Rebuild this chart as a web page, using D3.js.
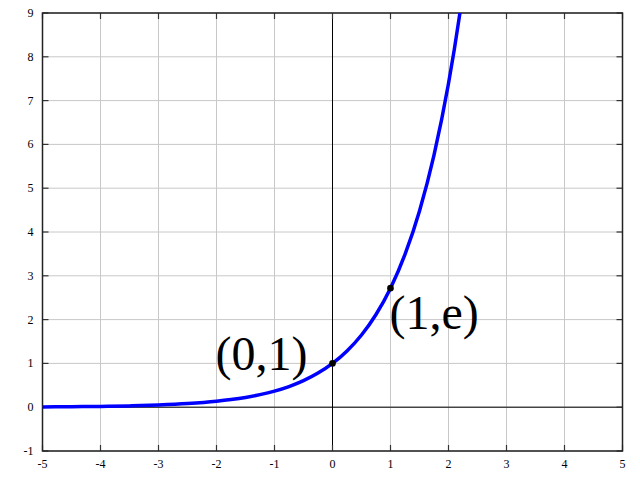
<!DOCTYPE html>
<html><head><meta charset="utf-8">
<script src="https://cdn.jsdelivr.net/npm/d3@7"></script>
<style>body{margin:0;background:#fff}</style>
</head><body><svg id="c" width="640" height="480"></svg>
<script>
const xTicks = [-5,-4,-3,-2,-1,0,1,2,3,4,5];
const yTicks = [-1,0,1,2,3,4,5,6,7,8,9];
const curveX = [-5,-4.5,-4,-3.5,-3,-2.5,-2,-1.75,-1.5,-1.25,-1,-0.75,-0.5,-0.25,0,0.25,0.5,0.75,1,1.25,1.5,1.75,2,2.1,2.2];
const curveY = [0.007,0.011,0.018,0.030,0.050,0.082,0.135,0.174,0.223,0.287,0.368,0.472,0.607,0.779,1,1.284,1.649,2.117,2.718,3.490,4.482,5.755,7.389,8.166,9.025];
const pointX = [0,1];
const pointY = [1,2.718];
const labels = ["(0,1)","(1,e)"];

const svg = d3.select("#c");
const L=42.5,R=622.5,T=13,B=451;
const x = d3.scaleLinear().domain([-5,5]).range([L,R]);
const y = d3.scaleLinear().domain([-1,9]).range([B,T]);
const font = "'Liberation Serif','Times New Roman',serif";

// grid
svg.append("g").selectAll("line").data(xTicks).join("line")
  .attr("x1",d=>x(d)).attr("x2",d=>x(d)).attr("y1",T).attr("y2",B)
  .attr("stroke","#c8c8c8").attr("stroke-width",1);
svg.append("g").selectAll("line").data(yTicks).join("line")
  .attr("y1",d=>y(d)).attr("y2",d=>y(d)).attr("x1",L).attr("x2",R)
  .attr("stroke","#c8c8c8").attr("stroke-width",1);

// axes through origin
svg.append("line").attr("x1",x(0)).attr("x2",x(0)).attr("y1",T).attr("y2",B).attr("stroke","#000").attr("stroke-width",1);
svg.append("line").attr("y1",y(0)).attr("y2",y(0)).attr("x1",L).attr("x2",R).attr("stroke","#000").attr("stroke-width",1);

// tick marks
const tk = svg.append("g").attr("stroke","#333").attr("stroke-width",1.2);
xTicks.forEach(d=>{
  tk.append("line").attr("x1",x(d)).attr("x2",x(d)).attr("y1",B).attr("y2",B-6);
  tk.append("line").attr("x1",x(d)).attr("x2",x(d)).attr("y1",T).attr("y2",T+6);
});
yTicks.forEach(d=>{
  tk.append("line").attr("y1",y(d)).attr("y2",y(d)).attr("x1",L).attr("x2",L+6);
  tk.append("line").attr("y1",y(d)).attr("y2",y(d)).attr("x1",R).attr("x2",R-6);
});

// frame
svg.append("rect").attr("x",L).attr("y",T).attr("width",R-L).attr("height",B-T)
  .attr("fill","none").attr("stroke","#222").attr("stroke-width",1.5);

// tick labels
svg.append("g").selectAll("text").data(xTicks).join("text")
  .attr("x",d=>x(d)).attr("y",B+17).attr("text-anchor","middle")
  .attr("font-family",font).attr("font-size",12).text(d=>d);
svg.append("g").selectAll("text").data(yTicks).join("text")
  .attr("x",L-9).attr("y",d=>y(d)+4).attr("text-anchor","end")
  .attr("font-family",font).attr("font-size",12).text(d=>d);

// curve
svg.append("clipPath").attr("id","clip").append("rect").attr("x",L).attr("y",T).attr("width",R-L).attr("height",B-T);
const pts = curveX.map((v,i)=>[v,curveY[i]]);
svg.append("path").datum(pts).attr("clip-path","url(#clip)")
  .attr("d",d3.line().x(d=>x(d[0])).y(d=>y(d[1])).curve(d3.curveMonotoneX))
  .attr("fill","none").attr("stroke","#0000ff").attr("stroke-width",3.5);

// points
svg.append("g").selectAll("circle").data(pointX).join("circle")
  .attr("cx",d=>x(d)).attr("cy",(d,i)=>y(pointY[i])).attr("r",3.3).attr("fill","#000");

// labels
svg.append("text").attr("x",x(0)-25).attr("y",y(1)+7).attr("text-anchor","end")
  .attr("font-family",font).attr("font-size",48).text(labels[0]);
svg.append("text").attr("x",x(1)-1).attr("y",y(2.718)+41).attr("text-anchor","start")
  .attr("font-family",font).attr("font-size",48).text(labels[1]);
</script></body></html>
